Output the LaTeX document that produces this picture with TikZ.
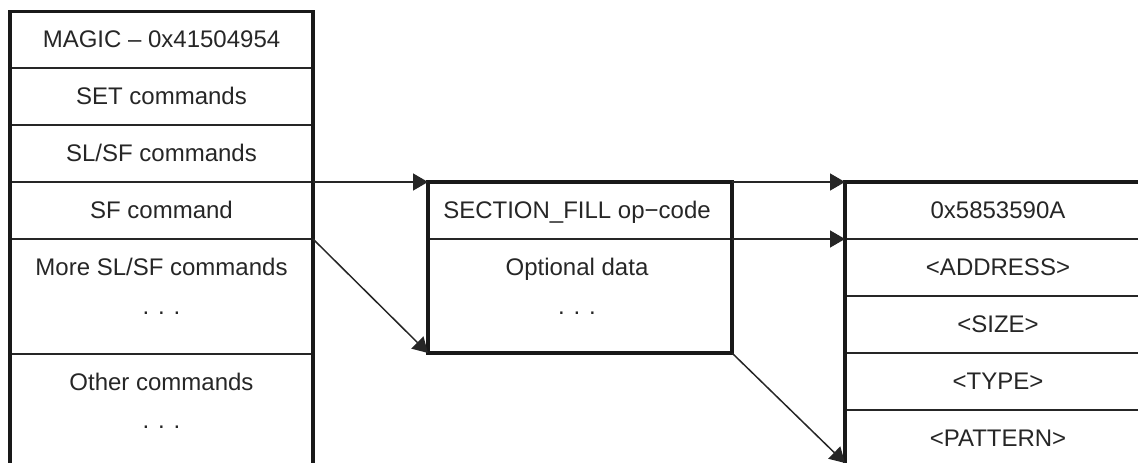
\documentclass[tikz,border=0pt]{standalone}
\usepackage{fontspec}
\setmainfont{Liberation Sans}
\usetikzlibrary{arrows.meta}
\begin{document}
\begin{tikzpicture}[x=1pt,y=-1pt,
  frame/.style={line width=3.5pt, color=black!90},
  divider/.style={line width=1.8pt, color=black!85},
  lbl/.style={font=\fontsize{24}{28}\selectfont, inner sep=0pt, anchor=base, text=black!85},
  conn/.style={line width=1.5pt, color=black!85, -{Triangle[length=15pt,width=17pt]}}]
\useasboundingbox (0,0) rectangle (1138,463);

% ---------- corner / divider coordinates ----------
% left column
\coordinate (L-tl) at (10,11.5);
\coordinate (L-tr) at (313,11.5);
\coordinate (L-bl) at (10,463);
\coordinate (L-br) at (313,463);
\coordinate (L-d1) at (313,182);  % SL/SF | SF command boundary (right end)
\coordinate (L-d2) at (313,239);  % SF command | More SL/SF boundary (right end)
% middle box
\coordinate (M-tl) at (428,182);
\coordinate (M-tr) at (732,182);
\coordinate (M-bl) at (428,353);
\coordinate (M-br) at (732,353);
\coordinate (M-dr) at (732,239);
% right box
\coordinate (R-tl) at (845,182);
\coordinate (R-d1) at (845,239);
\coordinate (R-bl) at (845,463);

% ---------- left column ----------
\foreach \yy in {68,125,182,239,354}
  \draw[divider] (10,\yy) -- (313,\yy);
\draw[frame] (L-bl) -- (L-tl) -- (L-tr) -- (L-br);

\node[lbl] (magic)  at (161.5,47.5) {MAGIC – 0x41504954};
\node[lbl] (set)    at (161.5,104.5) {SET commands};
\node[lbl] (slsf)   at (161.5,161) {SL/SF commands};
\node[lbl] (sf)     at (161.5,218) {SF command};
\node[lbl] (more)   at (161.5,275.5) {More SL/SF commands};
\node[lbl] (moredots) at (161.5,314) {. . .};
\node[lbl] (other)  at (161.5,390) {Other commands};
\node[lbl] (otherdots) at (161.5,428) {. . .};

% ---------- middle box ----------
\draw[divider] (428,239) -- (M-dr);
\draw[frame] (M-tl) rectangle (M-br);
\node[lbl] (opcode) at (577,218) {SECTION\_FILL op−code};
\node[lbl] (optdata) at (577,275.5) {Optional data};
\node[lbl] (optdots) at (577,314) {. . .};

% ---------- right box ----------
\foreach \yy in {239,296,353,410}
  \draw[divider] (845,\yy) -- (1138,\yy);
\draw[frame] (R-bl) -- (R-tl) -- (1138,182);
\node[lbl] (magic2)  at (998,218) {0x5853590A};
\node[lbl] (address) at (998,275.5) {<ADDRESS>};
\node[lbl] (size)    at (998,332.5) {<SIZE>};
\node[lbl] (type)    at (998,389.5) {<TYPE>};
\node[lbl] (pattern) at (998,446.5) {<PATTERN>};

% ---------- connectors ----------
\draw[conn] (L-d1) -- (M-tl);
\draw[conn] (L-d2) -- (M-bl);
\draw[conn] (M-tr) -- (R-tl);
\draw[conn] (M-dr) -- (R-d1);
\draw[conn] (M-br) -- (R-bl);
\end{tikzpicture}
\end{document}
